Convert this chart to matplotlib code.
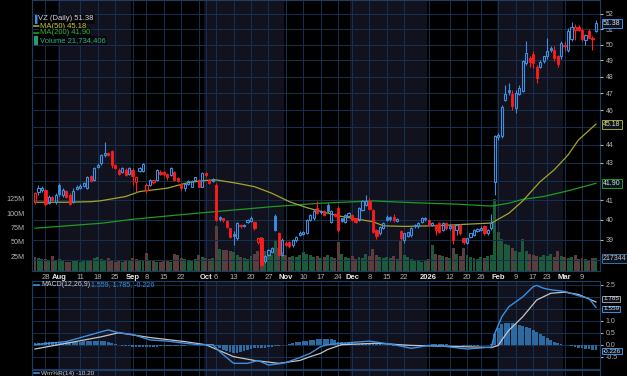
import numpy as np
import matplotlib
matplotlib.use('Agg')
import matplotlib.pyplot as plt
import matplotlib.transforms as mtransforms
from matplotlib.lines import Line2D
from matplotlib.ticker import FixedLocator, NullLocator, FixedFormatter

plt.rcParams['font.family'] = ['Liberation Sans', 'DejaVu Sans']

# ---- data (trading-day index: 0 = Jul 28 2025, 158 = Mar 13 2026) ----
days = np.arange(-3, 159)
prev_close0 = 41.50

opens = [40.90, 41.45, 41.54, 41.54, 40.86, 41.17, 40.90, 41.80, 41.27, 41.50, 41.30, 40.90, 41.60, 41.67, 41.78, 41.67,
         42.27, 42.09, 42.80, 42.97, 43.43, 43.55, 43.65, 42.91, 42.64, 42.51, 42.64, 42.40, 42.64, 41.96, 42.58, 42.58,
         41.52, 41.82, 41.95, 42.10, 42.51, 42.50, 42.40, 42.36, 42.50, 42.20, 41.85, 41.63, 41.85, 41.72, 42.09, 42.09,
         41.72, 42.46, 42.09, 42.00, 41.82, 40.15, 40.07, 39.95, 39.57, 39.30, 39.07, 39.75, 39.68, 39.90, 39.95, 39.90,
         38.87, 39.07, 37.95, 38.24, 38.40, 40.20, 39.32, 38.24, 38.85, 38.87, 38.73, 38.98, 39.23, 39.30, 39.32, 39.99,
         40.07, 40.60, 40.38, 40.43, 40.77, 39.90, 40.30, 40.60, 40.07, 39.90, 40.20, 40.26, 40.07, 39.99, 40.50, 40.75,
         40.98, 40.50, 39.49, 39.32, 39.60, 40.15, 40.16, 40.16, 39.95, 39.43, 38.98, 39.18, 39.23, 39.66, 39.66, 39.90,
         40.05, 39.99, 39.74, 39.74, 39.82, 39.49, 39.82, 39.60, 39.74, 39.49, 39.74, 39.07, 38.85, 39.15, 39.23, 39.45,
         39.50, 39.66, 39.32, 39.60, 41.95, 44.45, 44.50, 46.60, 47.20, 46.92, 46.11, 46.94, 47.10, 48.83, 49.14, 49.41,
         48.62, 48.62, 48.94, 49.25, 49.76, 49.66, 49.25, 49.25, 49.98, 49.66, 50.34, 50.94, 51.13, 50.94, 50.30, 50.88,
         50.34, 50.88]
highs = [41.45, 41.80, 41.78, 41.60, 41.30, 41.25, 41.41, 41.90, 41.63, 41.55, 41.40, 41.63, 41.80, 41.85, 41.98, 42.30,
         42.35, 42.80, 42.97, 43.50, 44.19, 43.60, 43.74, 42.95, 42.70, 42.80, 42.70, 42.78, 42.70, 42.25, 42.80, 43.00,
         41.90, 42.15, 42.10, 42.65, 42.60, 42.55, 42.45, 42.80, 42.55, 42.25, 41.90, 41.90, 42.05, 42.05, 42.25, 42.15,
         42.50, 42.50, 42.15, 42.20, 41.90, 40.20, 40.10, 40.00, 39.60, 39.45, 39.90, 39.80, 39.80, 40.05, 40.20, 39.95,
         39.10, 39.10, 38.25, 38.55, 38.65, 40.30, 39.40, 39.10, 38.95, 38.95, 39.05, 39.20, 39.45, 39.45, 40.05, 40.30,
         40.55, 40.97, 40.50, 40.50, 40.85, 40.50, 40.35, 40.70, 40.10, 40.30, 40.40, 40.30, 40.10, 40.65, 41.00, 41.29,
         41.10, 40.55, 39.55, 39.70, 39.90, 40.25, 40.20, 40.30, 40.10, 39.50, 39.35, 39.40, 39.62, 39.80, 39.88, 40.15,
         40.15, 40.05, 39.90, 39.80, 39.90, 39.90, 39.90, 39.80, 39.80, 39.80, 39.80, 39.10, 39.10, 39.35, 39.55, 39.60,
         39.70, 39.75, 39.55, 40.30, 44.57, 44.70, 46.30, 47.50, 47.60, 47.20, 47.20, 47.50, 49.00, 50.20, 49.30, 49.60,
         48.70, 49.00, 49.30, 50.43, 49.90, 49.90, 49.35, 50.20, 50.20, 51.05, 51.48, 51.30, 51.25, 51.05, 50.70, 51.00,
         50.55, 51.62]
lows = [40.80, 41.30, 41.45, 40.72, 40.80, 40.95, 40.80, 41.25, 41.18, 41.10, 40.75, 40.85, 41.54, 41.60, 41.72, 41.60,
        41.95, 42.00, 42.73, 42.90, 43.35, 43.40, 42.73, 42.65, 42.33, 42.45, 42.30, 42.35, 41.82, 41.45, 42.50, 42.50,
        41.40, 41.75, 41.85, 42.00, 42.35, 42.30, 42.10, 42.30, 42.00, 41.95, 41.55, 41.50, 41.80, 41.68, 42.05, 41.68,
        41.68, 42.25, 41.85, 41.95, 39.95, 39.95, 39.90, 39.60, 39.10, 38.75, 39.00, 39.60, 39.62, 39.85, 39.90, 39.50,
        38.80, 37.70, 37.85, 38.20, 38.35, 39.45, 38.20, 38.20, 38.70, 38.60, 38.65, 38.90, 39.20, 39.22, 39.28, 39.95,
        40.00, 40.30, 40.30, 40.20, 40.35, 39.85, 40.15, 39.40, 39.90, 39.85, 40.15, 39.95, 39.85, 39.95, 40.45, 40.70,
        40.50, 39.35, 39.05, 39.25, 39.55, 39.95, 39.95, 39.90, 39.90, 39.00, 38.85, 39.15, 39.15, 39.60, 39.60, 39.85,
        39.95, 39.70, 39.70, 39.23, 39.35, 39.45, 39.50, 39.50, 38.80, 39.25, 39.25, 38.80, 38.80, 39.10, 39.20, 39.40,
        39.45, 39.25, 39.25, 39.50, 41.29, 44.30, 44.40, 46.55, 46.90, 46.00, 45.80, 46.90, 47.05, 48.70, 48.60, 48.50,
        47.60, 48.50, 48.85, 49.10, 49.55, 48.95, 48.60, 49.10, 49.60, 49.55, 50.20, 50.30, 50.85, 50.25, 49.95, 50.40,
        49.68, 50.80]
closes = [41.36, 41.63, 41.67, 40.80, 41.20, 41.03, 41.30, 41.35, 41.54, 41.17, 40.80, 41.50, 41.72, 41.78, 41.91, 42.22,
          42.00, 42.73, 42.90, 43.43, 43.55, 43.46, 42.88, 42.73, 42.40, 42.73, 42.36, 42.73, 42.27, 42.22, 42.73, 42.95,
          41.80, 42.10, 42.05, 42.60, 42.42, 42.38, 42.22, 42.73, 42.09, 42.00, 41.63, 41.85, 42.00, 42.00, 42.22, 41.72,
          42.46, 42.33, 41.91, 42.13, 40.00, 40.05, 39.99, 39.65, 39.15, 39.20, 39.82, 39.68, 39.74, 40.00, 40.10, 39.57,
          39.07, 37.78, 38.20, 38.48, 38.57, 39.50, 38.24, 38.98, 38.73, 38.70, 39.00, 39.15, 39.35, 39.40, 39.99, 40.24,
          40.43, 40.35, 40.45, 40.26, 40.43, 40.45, 40.20, 39.49, 39.95, 40.24, 40.35, 39.99, 39.90, 40.60, 40.94, 40.98,
          40.55, 39.40, 39.20, 39.65, 39.85, 39.99, 40.04, 39.99, 40.05, 39.10, 39.32, 39.36, 39.57, 39.74, 39.82, 40.07,
          40.10, 39.74, 39.82, 39.49, 39.40, 39.82, 39.57, 39.70, 38.98, 39.74, 39.32, 38.87, 39.07, 39.32, 39.49, 39.52,
          39.60, 39.32, 39.49, 39.82, 44.50, 44.55, 46.20, 46.96, 47.04, 46.24, 47.00, 47.30, 48.94, 49.45, 48.88, 48.85,
          47.90, 48.87, 49.25, 49.62, 49.66, 49.14, 48.79, 50.08, 49.88, 50.88, 51.15, 51.10, 50.96, 50.34, 50.61, 50.45,
          50.42, 51.38]
volume_m = [24, 22, 20, 21, 18, 26, 19, 21, 17, 16, 15, 17, 18,
            16, 18, 17, 19, 22, 24, 21, 18, 22, 19, 16, 17, 15, 18, 17,
            22, 20, 18, 19, 31, 19, 17, 16, 15, 17, 18, 16, 30, 28, 22, 20, 18, 17, 21, 27,
            24, 22, 20, 23, 78,
            38, 36, 37, 35, 33, 28, 24, 22, 20, 26, 30, 34, 58,
            35, 30, 28, 54, 40, 32, 28, 24, 26, 25, 28, 32, 30, 27, 24,
            26, 22, 24, 28, 25, 22, 50, 30, 24, 22, 26, 20, 24, 22, 30, 26, 38, 28, 24, 22,
            24, 22, 26, 20, 53, 28, 24, 20, 18, 17, 16, 18, 20, 44, 30, 28, 26, 24, 22, 39, 30, 26, 39, 28, 25, 22,
            20, 24, 22, 26, 27,
            124, 67, 56, 47, 44, 39, 35, 32, 56, 34, 30, 28, 26, 24, 28, 26, 30, 24, 34, 26, 24, 22, 24, 28, 20, 23,
            21, 19, 22, 21.7]

ma50_day = [-3, 6, 13, 16, 23, 27, 35, 41, 46, 49, 55, 60, 65, 70, 75, 79, 84, 89, 94, 97, 103, 113, 122, 128,
            133, 137, 142, 146, 150, 153, 158]
ma50_val = [40.90, 40.90, 40.93, 40.98, 41.20, 41.46, 41.64, 41.94, 42.05, 42.08, 41.90, 41.72, 41.37, 40.93, 40.62,
            40.43, 40.20, 40.04, 39.90, 39.69, 39.66, 39.70, 39.78, 39.83, 40.33, 40.97, 41.99, 42.62, 43.44, 44.28, 45.18]
ma200_day = [-3, 16, 25, 35, 46, 65, 79, 94, 105, 118, 128, 133, 137, 143, 150, 158]
ma200_val = [39.57, 39.82, 40.02, 40.19, 40.37, 40.67, 40.85, 40.97, 40.88, 40.80, 40.70, 40.85, 41.05, 41.20,
             41.50, 41.90]

macd_day = [-3, 6, 16, 18, 21, 25, 30, 35, 40, 44, 48, 50, 54, 58, 61, 64, 67, 69, 73, 76, 79, 81, 85, 93, 100,
            105, 110, 114, 121, 128, 129, 131, 133, 137, 140, 141, 143, 145, 149, 153, 156, 158]
macd_val = [0.00, 0.13, 0.54, 0.62, 0.50, 0.43, 0.20, 0.15, 0.06, 0.00, 0.00, -0.29, -0.78, -0.78, -0.66, -0.85,
            -0.80, -0.75, -0.54, -0.36, -0.08, 0.00, 0.06, 0.15, 0.00, -0.15, -0.03, -0.06, -0.18, -0.10, 0.48, 1.17,
            1.59, 2.00, 2.43, 2.48, 2.36, 2.30, 2.23, 2.05, 1.94, 1.559]
signal_day = [-3, 6, 16, 21, 30, 40, 46, 54, 60, 67, 73, 76, 79, 81, 85, 95, 105, 114, 124, 128, 130, 131, 133,
              137, 141, 145, 149, 153, 158]
signal_val = [-0.18, 0.06, 0.33, 0.50, 0.30, 0.13, 0.00, -0.50, -0.66, -0.78, -0.66, -0.50, -0.36, -0.20, 0.00,
              0.06, -0.03, -0.06, -0.10, -0.12, -0.03, 0.20, 0.60, 1.17, 1.87, 2.15, 2.20, 2.10, 1.785]
macd_hist = [0.06, 0.08, 0.09, 0.10, 0.10, 0.10, 0.09, 0.09,
             0.09, 0.10, 0.11, 0.12, 0.12, 0.13, 0.14, 0.15, 0.16, 0.17, 0.17, 0.16, 0.14, 0.10,
             0.05, 0.01, -0.03, -0.05, -0.06, -0.07,
             -0.08, -0.09, -0.10, -0.10, -0.10, -0.09, -0.08, -0.08, -0.07, -0.07, -0.06, -0.06, -0.05, -0.05,
             -0.04, -0.04, -0.03, -0.03, -0.02, -0.02,
             -0.01, 0.00, 0.00, 0.01, -0.04,
             -0.14, -0.22, -0.28, -0.32, -0.35, -0.34, -0.30, -0.26, -0.22, -0.18, -0.15, -0.13, -0.14,
             -0.12, -0.10, -0.08, -0.05, -0.04, -0.02, 0.00,
             0.04, 0.07, 0.10, 0.12, 0.14, 0.16, 0.18, 0.20, 0.22, 0.24, 0.25, 0.25, 0.22, 0.18, 0.13,
             0.10, 0.08, 0.06, 0.05, 0.04, 0.04, 0.05, 0.06, 0.06, 0.05, 0.03, 0.01, -0.01, -0.02, -0.03,
             -0.04, -0.05, -0.05, -0.06, -0.06, -0.05, -0.04, -0.03, -0.02, -0.01, 0.00, 0.01, 0.02, 0.02, 0.02,
             0.01, 0.00, -0.01, -0.02, -0.03, -0.04, -0.05, -0.05, -0.04, -0.04, -0.03, -0.02, -0.01, 0.02,
             0.45, 0.70, 0.85, 0.90, 0.92, 0.90, 0.86, 0.82, 0.78, 0.74, 0.68, 0.60, 0.52, 0.44, 0.36, 0.28,
             0.20, 0.13, 0.07, 0.03, 0.00, -0.03, -0.06, -0.09, -0.12, -0.15, -0.17, -0.19, -0.21, -0.226]

tick_day = [0, 4, 10, 15, 20, 25, 29, 34, 39, 46, 49, 54, 59, 64, 69, 74, 79, 84, 88, 93, 98, 103, 110, 116, 121,
            125, 130, 135, 140, 144, 149, 154]
tick_lab = ['28', 'Aug', '11', '18', '25', 'Sep', '8', '15', '22', 'Oct', '6', '13', '20', '27', 'Nov', '10', '17',
            '24', 'Dec', '8', '15', '22', '2026', '12', '20', '26', 'Feb', '9', '17', '23', 'Mar', '9']
extra_grid_day = [44]
month_spans = [(3.5, 24.5), (45.5, 68.5), (87.5, 109.5), (129.5, 148.5)]
price_ticks = [39, 40, 41, 43, 44, 46, 47, 48, 49, 50, 51, 52]
macd_ticks = [-0.5, 0.0, 0.5, 1.0, 2.5]

# ---- styling ----
W, H = 627, 376
BG = '#000000'
SHADE = '#12121e'
GRID = '#163050'
SPINE = '#1e3d63'
BLUE = '#3f8fe0'
RED = '#ff1c1c'
TXT = '#b4b4b4'

fig = plt.figure(figsize=(W / 100, H / 100), dpi=100, facecolor=BG)


def box(x0, y0, x1, y1):
    return [x0 / W, 1 - y1 / H, (x1 - x0) / W, (y1 - y0) / H]


XL = (-3.86, 159.17)
ax_v = fig.add_axes(box(32, 0, 600, 271))
ax = fig.add_axes(box(32, 0, 600, 271))
ax_m = fig.add_axes(box(32, 281, 600, 369))
ax_w = fig.add_axes(box(32, 370, 600, 400))

for a in (ax_v, ax_m, ax_w):
    a.set_facecolor(BG)
    for s in a.spines.values():
        s.set_color(SPINE)
        s.set_linewidth(0.8)
    a.set_xlim(*XL)
ax.patch.set_visible(False)
for s in ax.spines.values():
    s.set_visible(False)
ax.set_xlim(*XL)

# month shading + vertical grid
for a in (ax_v, ax_m, ax_w):
    for a0, a1 in month_spans:
        a.axvspan(a0, a1, color=SHADE, zorder=0, lw=0)
    for d in tick_day + extra_grid_day:
        a.axvline(d, color=GRID, lw=0.7, zorder=0.5)

# ---- volume ----
o = np.array(opens); hi = np.array(highs); lo = np.array(lows); c = np.array(closes)
prev = np.r_[prev_close0, c[:-1]]
up = c >= prev
vol = np.array(volume_m) * 1e6
ax_v.bar(days, vol, width=0.85, color=np.where(up, '#1d5a3c', '#5a3e3e'), lw=0, zorder=1)
ax_v.set_ylim(0, 271 / 14.5 * 25e6)
ax_v.set_xticks([])
ax_v.yaxis.set_major_locator(FixedLocator([25e6, 50e6, 75e6, 100e6, 125e6]))
ax_v.yaxis.set_major_formatter(FixedFormatter(['25M', '50M', '75M', '100M', '125M']))
ax_v.tick_params(axis='y', left=False, labelsize=5.2, labelcolor=TXT, pad=2)

# ---- price ----
ax.set_yscale('log')
ax.set_ylim(37.47, 52.92)
for p in range(38, 53):
    ax.axhline(p, color=GRID, lw=0.7, zorder=0.5)
ax.yaxis.tick_right()
ax.yaxis.set_major_locator(FixedLocator(price_ticks))
ax.yaxis.set_major_formatter(FixedFormatter([str(p) for p in price_ticks]))
ax.yaxis.set_minor_locator(NullLocator())
ax.tick_params(axis='y', length=2, color=TXT, labelsize=5, labelcolor=TXT, pad=2)

ax.plot(ma200_day, ma200_val, color='#1f9a22', lw=0.9, zorder=2)
ax.plot(ma50_day, ma50_val, color='#a4a42c', lw=0.9, zorder=2)

col = np.where(up, BLUE, RED)
blo = np.minimum(o, c)
bhi = np.maximum(o, c)
ax.vlines(days, lo, blo, colors=col, lw=0.8, zorder=3)
ax.vlines(days, bhi, hi, colors=col, lw=0.8, zorder=3)
hollow = c > o
bh = np.maximum(bhi - blo, 0.03)
ax.bar(days[hollow], bh[hollow], bottom=blo[hollow], width=0.62, facecolor='none',
       edgecolor=col[hollow], lw=0.8, zorder=4)
ax.bar(days[~hollow], bh[~hollow], bottom=blo[~hollow], width=0.62, facecolor=col[~hollow],
       edgecolor=col[~hollow], lw=0.6, zorder=4)

ax.set_xticks(tick_day)
ax.set_xticklabels(tick_lab)
ax.tick_params(axis='x', length=0, pad=2.5, labelsize=5.5)
for t in ax.get_xticklabels():
    if t.get_text().isalpha() or t.get_text() == '2026':
        t.set_fontweight('bold')
        t.set_color('#e6e6e6')
    else:
        t.set_color(TXT)


def tag(a, yv, txt, ec, tc, ytr, fs=5, pad=0.15):
    a.text(1 + 3 / 568, yv, txt, transform=mtransforms.blended_transform_factory(a.transAxes, ytr),
           fontsize=fs, color=tc, va='center', ha='left', clip_on=False, zorder=10,
           bbox=dict(boxstyle='square,pad=%g' % pad, fc='#0b1220', ec=ec, lw=0.7))


tag(ax, closes[-1], '51.38', '#3f8fe0', '#e0e0e0', ax.transData)
tag(ax, ma50_val[-1], '45.18', '#a4a42c', '#e0e0a0', ax.transData)
tag(ax, ma200_val[-1], '41.90', '#1f9a22', '#d0f0d0', ax.transData)
tag(ax, volume_m[-1] * 1e6, '217344', '#3f6f9f', '#c8c8c8', ax_v.transData)

# ---- MACD ----
ax_m.set_ylim(-1.017, 2.665)
for v in [-1.0, -0.5, 0, 0.5, 1.0, 1.5, 2.0, 2.5]:
    ax_m.axhline(v, color=GRID, lw=0.7, zorder=0.5)
ax_m.bar(days, macd_hist, width=0.8, color='#2c6aa2', lw=0, zorder=1)
ax_m.plot(signal_day, signal_val, color='#c4c4c4', lw=0.9, zorder=2)
ax_m.plot(macd_day, macd_val, color='#3d8ee0', lw=1.0, zorder=3)
ax_m.set_xticks([])
ax_m.yaxis.tick_right()
ax_m.yaxis.set_major_locator(FixedLocator(macd_ticks))
ax_m.yaxis.set_major_formatter(FixedFormatter(['%.1f' % v for v in macd_ticks]))
ax_m.tick_params(axis='y', length=2, color=TXT, labelsize=5, labelcolor=TXT, pad=2)
tag(ax_m, signal_val[-1] + 0.14, '1.785', '#9a9a9a', '#e0e0e0', ax_m.transData, fs=4.6, pad=0.1)
tag(ax_m, macd_val[-1] - 0.06, '1.559', '#3f8fe0', '#e0e0e0', ax_m.transData, fs=4.6, pad=0.1)
tag(ax_m, macd_hist[-1] - 0.05, '-0.226', '#3f8fe0', '#e0e0e0', ax_m.transData, fs=4.6, pad=0.1)

ax_w.set_xticks([])
ax_w.set_yticks([])

# ---- legends ----
def ftext(x, y, s, color, **kw):
    fig.text(x / W, 1 - y / H, s, color=color, fontsize=5.5, va='center', ha='left', **kw)


def fline(x0, x1, y, color, lw=1.2):
    fig.add_artist(Line2D([x0 / W, x1 / W], [1 - y / H, 1 - y / H], color=color, lw=lw))


bb = dict(boxstyle='square,pad=0.15', fc='black', ec='none', alpha=0.55)
fig.add_artist(Line2D([35.5 / W, 35.5 / W], [1 - 16 / H, 1 - 22 / H], color=BLUE, lw=2.2))
ftext(38, 19, 'VZ (Daily) 51.38', '#d6d6d6', bbox=bb)
fline(34, 39, 26, '#a4a42c')
ftext(40, 26, 'MA(50) 45.18', '#c8c83a', bbox=bb)
fline(34, 39, 33, '#1f9a22')
ftext(40, 33, 'MA(200) 41.90', '#35b035', bbox=bb)
fig.add_artist(Line2D([36 / W, 36 / W], [1 - 38 / H, 1 - 43 / H], color='#2a9a70', lw=3))
ftext(40, 40.5, 'Volume 21,734,406', '#2fae80', bbox=bb)

fline(34, 39, 285, '#3d8ee0')
fig.text(41 / W, 1 - 285 / H, 'MACD(12,26,9)', color='#c8c8c8', fontsize=5, va='center', ha='left')
fig.text(91 / W, 1 - 285 / H, '1.559, 1.785, -0.226', color='#3d8ee0', fontsize=5, va='center', ha='left')
fline(34, 39, 373, '#3d8ee0')
fig.text(41 / W, 1 - 373 / H, 'Wm%R(14) -10.20', color='#c8c8c8', fontsize=4.6, va='center', ha='left')

fig.savefig('out.png', dpi=100, facecolor=BG)
